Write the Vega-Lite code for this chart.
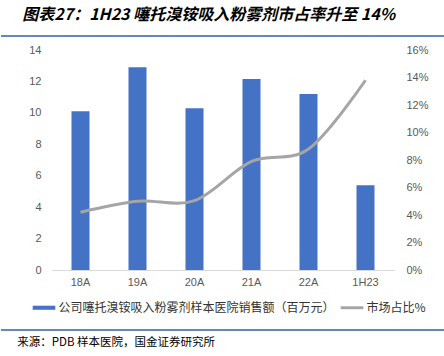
{
  "$schema": "https://vega.github.io/schema/vega-lite/v6.json",
  "padding": {"left": 0, "top": 7, "right": 0, "bottom": 0},
  "background": "white",
  "config": {
    "font": "Noto Sans CJK SC",
    "view": {"stroke": null},
    "axis": {"labelFont": "Liberation Sans", "labelFontSize": 11, "labelColor": "#595959", "grid": false, "ticks": false, "title": null}
  },
  "datasets": {
    "main": [
      {"period": "18A", "sales": 10.1, "share": 0.042},
      {"period": "19A", "sales": 12.9, "share": 0.050},
      {"period": "20A", "sales": 10.3, "share": 0.0505},
      {"period": "21A", "sales": 12.15, "share": 0.079},
      {"period": "22A", "sales": 11.2, "share": 0.088},
      {"period": "1H23", "sales": 5.4, "share": 0.138}
    ],
    "rulehead": [{"pos": 1}],
    "rulefoot": [{"pos": 0}]
  },
  "bounds": "flush",
  "center": true,
  "spacing": 0,
  "vconcat": [
    {
      "width": 444,
      "height": 14,
      "title": {"text": "图表27：1H23 噻托溴铵吸入粉雾剂市占率升至 14%", "anchor": "start", "dx": 22, "offset": 12, "fontSize": 16, "fontStyle": "italic", "fontWeight": "bold", "color": "#000000", "font": "Noto Sans CJK SC"},
      "data": {"name": "rulehead"},
      "mark": {"type": "rule", "color": "#2E6496", "strokeWidth": 1.5, "clip": false},
      "encoding": {"y": {"field": "pos", "type": "quantitative", "scale": {"domain": [0, 1]}, "axis": null}}
    },
    {
      "width": 342,
      "height": 220,
      "data": {"name": "main"},
      "encoding": {
        "x": {
          "field": "period", "type": "nominal", "sort": null,
          "scale": {"paddingInner": 0.684, "paddingOuter": 0.342},
          "axis": {"labelAngle": 0, "domainColor": "#D9D9D9", "domainWidth": 1, "labelPadding": 6}
        }
      },
      "layer": [
        {
          "mark": {"type": "bar"},
          "encoding": {
            "y": {"field": "sales", "type": "quantitative", "scale": {"domain": [0, 14]}, "axis": {"values": [0, 2, 4, 6, 8, 10, 12, 14], "domain": false, "labelPadding": 11}},
            "color": {
              "datum": "公司噻托溴铵吸入粉雾剂样本医院销售额（百万元）",
              "scale": {"domain": ["公司噻托溴铵吸入粉雾剂样本医院销售额（百万元）", "市场占比%"], "range": ["#4472C4", "#A5A5A5"]},
              "legend": {
                "orient": "none", "legendX": 31.5, "legendY": 260, "direction": "horizontal", "title": null, "padding": 0,
                "labelFontSize": 12, "labelColor": "#333333", "labelLimit": 0, "labelOffset": 3, "columnPadding": 5,
                "symbolSize": 511, "symbolStrokeWidth": 0, "symbolOpacity": 1,
                "encode": {"symbols": {"update": {
                  "shape": {"signal": "datum.value === '市场占比%' ? 'M-1,-0.13H1V0.13H-1Z' : 'M-1,-0.18H1V0.18H-1Z'"},
                  "fill": {"signal": "datum.value === '市场占比%' ? '#A5A5A5' : '#4472C4'"},
                  "stroke": {"value": "transparent"}
                }}}
              }
            }
          }
        },
        {
          "mark": {"type": "line", "interpolate": "cardinal", "strokeWidth": 3},
          "encoding": {
            "y": {"field": "share", "type": "quantitative", "scale": {"domain": [0, 0.16]}, "axis": {"orient": "right", "format": ".0%", "values": [0, 0.02, 0.04, 0.06, 0.08, 0.1, 0.12, 0.14, 0.16], "domain": false, "labelPadding": 12}},
            "color": {"datum": "市场占比%"}
          }
        }
      ],
      "resolve": {"scale": {"y": "independent"}}
    },
    {
      "width": 444,
      "height": 60,
      "title": {"text": "来源：PDB 样本医院，国金证券研究所", "orient": "bottom", "anchor": "start", "dx": 17, "offset": 6, "fontSize": 11.5, "fontWeight": "normal", "color": "#000000", "font": "Noto Sans CJK SC"},
      "data": {"name": "rulefoot"},
      "mark": {"type": "rule", "color": "#2E6496", "strokeWidth": 1.5, "clip": false},
      "encoding": {"y": {"field": "pos", "type": "quantitative", "scale": {"domain": [0, 1]}, "axis": null}}
    }
  ]
}
